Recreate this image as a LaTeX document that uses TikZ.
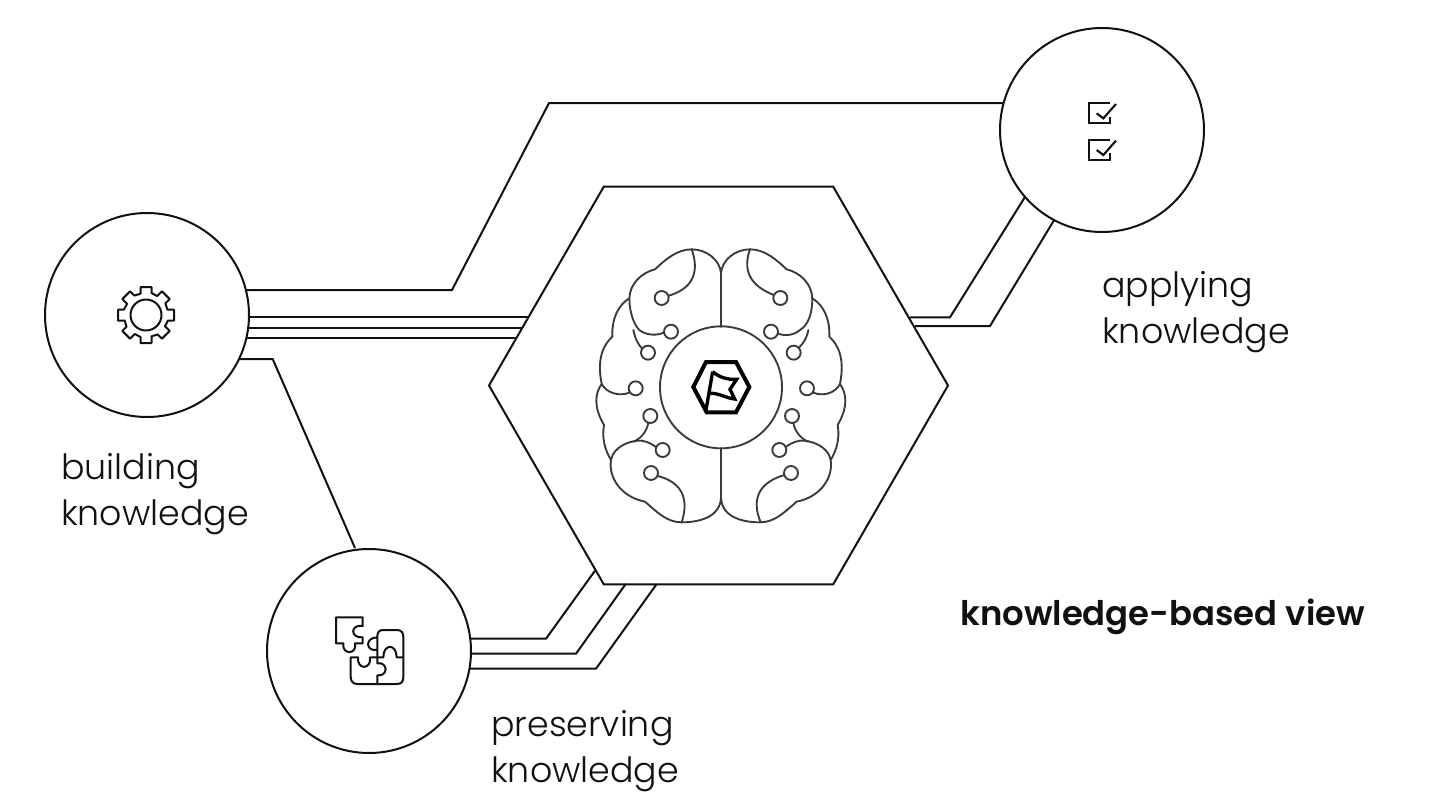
\documentclass[tikz,border=0pt]{standalone}
\usepackage{fontspec}
\setmainfont{Poppins Light}
\newfontfamily\boldf{Poppins SemiBold}
\usetikzlibrary{shapes.geometric}
\definecolor{ink}{HTML}{111111}
\definecolor{brainc}{HTML}{3a3a3a}
\tikzset{
  line/.style={draw=ink,line width=1.5pt,line join=miter},
  round/.style={circle,draw=ink,line width=1.5pt,minimum size=153pt,inner sep=0pt,outer sep=0pt},
  hexa/.style={regular polygon,regular polygon sides=6,draw=ink,line width=1.5pt,minimum size=344.25pt,inner sep=0pt,outer sep=0pt},
  lab/.style={anchor=west,align=left,font=\fontsize{26.1}{34.5}\selectfont,text=ink,inner sep=0pt},
  brain/.style={draw=brainc,line width=1.4pt,line cap=round,line join=round},
  dot/.style={draw=brainc,line width=1.4pt},
  icon/.style={draw=ink,line width=1.5pt,line join=round,line cap=round},
}
\begin{document}
\begin{tikzpicture}[x=0.75pt,y=-0.75pt]
\useasboundingbox (0,0) rectangle (1440,810);
\fill[white] (0,0) rectangle (1440,810);
\node[round] (build) at (147,315) {};
\node[round] (apply) at (1102,130) {};
\node[round] (pres) at (369,651) {};
\node[hexa] (hex) at (718.5,385.5) {};
\coordinate (h1) at (527.7,317.3);
\coordinate (h2) at (522.3,327.7);
\coordinate (h3) at (516,338.3);
\coordinate (h4) at (910,317.3);
\coordinate (h5) at (915,326);
\coordinate (h6) at (595,570.7);
\coordinate (h7) at (625.7,584);
\coordinate (h8) at (656.7,584);
\draw[line] (build.14.2 |- 452,290) -- (452,290) -- (549,103) -- (apply.164.8 |- 549,103);
\draw[line] (build.-1.3 |- h1) -- (h1);
\draw[line] (build.-7.1 |- h2) -- (h2);
\draw[line] (build.-13.2 |- h3) -- (h3);
\draw[line] (build.-25.5 |- 272.7,359) -- (272.7,359) -- (355,548);
\draw[line] (h4) -- (950,317.3) -- (apply.-139.4);
\draw[line] (h5) -- (990,326) -- (apply.-118.2);
\draw[line] (pres.6.9 |- 546,638.7) -- (546,638.7) -- (h6);
\draw[line] (pres.-1.5 |- 576,653.7) -- (576,653.7) -- (h7);
\draw[line] (pres.-10 |- 596,668.7) -- (596,668.7) -- (h8);

\node[lab] (t1) at (61,494) {building\\knowledge};
\node[lab] (t2) at (1102,312) {applying\\knowledge};
\node[lab] (t3) at (491,751) {preserving\\knowledge};
\node[anchor=west,inner sep=0pt,font=\boldf\fontsize{25.4}{30}\selectfont,text=ink] (t4) at (960,617) {knowledge-based view};

% brain, in zoom coordinates
\begin{scope}[shift={(580,230)},scale=0.33333]
\node[circle,draw=brainc,line width=1.4pt,minimum size=91.5pt,inner sep=0pt] (core) at (423,472) {};
\draw[brain] (423,290) -- (423,130) .. controls (420,90) and (380,58) .. (335,58)
  .. controls (290,58) and (255,90) .. (225,118) .. controls (185,128) and (150,160) .. (148,205)
  .. controls (115,225) and (95,265) .. (97,320) .. controls (70,345) and (50,385) .. (65,462)
  .. controls (45,490) and (40,530) .. (72,585) .. controls (65,625) and (75,660) .. (93,690)
  .. controls (85,740) and (120,800) .. (195,815) .. controls (230,845) and (260,877) .. (305,877)
  .. controls (360,877) and (423,860) .. (423,800) -- (423,655);
\draw[brain] (423,290) -- (423,130) .. controls (426,90) and (465,58) .. (510,58)
  .. controls (555,58) and (590,90) .. (620,118) .. controls (660,128) and (695,160) .. (697,205)
  .. controls (730,225) and (750,265) .. (748,320) .. controls (775,345) and (795,385) .. (780,462)
  .. controls (800,490) and (805,530) .. (773,585) .. controls (780,625) and (770,660) .. (752,690)
  .. controls (760,740) and (725,800) .. (650,815) .. controls (615,845) and (585,877) .. (540,877)
  .. controls (485,877) and (423,860) .. (423,800) -- (423,655);
% left inner lines
\draw[brain] (335,58) .. controls (350,100) and (360,170) .. (266,197);
\draw[brain] (148,205) .. controls (148,250) and (165,295) .. (185,305) .. controls (210,318) and (235,315) .. (252,308);
\draw[brain] (160,300) .. controls (165,325) and (175,345) .. (186,355);
\draw[brain] (65,462) .. controls (80,490) and (120,500) .. (147,488);
\draw[brain] (205,578) .. controls (200,610) and (175,630) .. (160,635);
\draw[brain] (93,690) .. controls (100,650) and (150,630) .. (185,632) .. controls (205,635) and (220,645) .. (229,652);
\draw[brain] (233,738) .. controls (300,755) and (330,800) .. (305,877);
% right inner lines
\draw[brain] (510,58) .. controls (495,100) and (490,160) .. (582,195);
\draw[brain] (697,205) .. controls (697,250) and (685,285) .. (660,300) .. controls (640,318) and (610,318) .. (592,310);
\draw[brain] (685,300) .. controls (680,325) and (670,340) .. (658,352);
\draw[brain] (780,462) .. controls (765,490) and (730,500) .. (700,488);
\draw[brain] (640,578) .. controls (645,610) and (670,630) .. (685,635);
\draw[brain] (752,690) .. controls (745,650) and (695,630) .. (660,632) .. controls (640,635) and (625,645) .. (616,652);
\draw[brain] (613,735) .. controls (545,755) and (510,800) .. (542,877);
% terminals
\foreach \n/\a/\b in {d1/245/204,d2/273/305,d3/204/368,d4/167/475,d5/211/558,d6/248/660,d7/213/729,
  d8/601/204,d9/573/305,d10/641/368,d11/681/475,d12/636/558,d13/598/660,d14/633/729}{
  \node[circle,dot,fill=white,minimum size=10.5pt,inner sep=0pt] (\n) at (\a,\b) {};
}
% logo
\draw[draw=black,line width=3pt,line join=miter] (378,396) -- (468,396) -- (508,471) -- (468,547) -- (380,547) -- (340,471) -- cycle;
\draw[draw=black,line width=2.5pt,line join=miter] (378,540) -- (398,425);
\draw[draw=black,line width=2.5pt,line join=miter] (398,425) .. controls (415,440) and (440,450) .. (470,448) -- (450,478) -- (464,507) .. controls (440,505) and (415,488) .. (388,490);
\end{scope}

% gear
\begin{scope}[shift={(146,315)}]
\draw[icon] (0,0) circle (15.5);
\foreach \r in {0,45,...,315}{
 \begin{scope}[rotate=\r]
  \draw[icon] (-5.5,-22) -- (-5.5,-28) -- (5.5,-28) -- (5.5,-22) to[bend left=7] ({22*sin(45-14.2)},{-22*cos(45-14.2)});
 \end{scope}
}
\end{scope}

% check boxes
\begin{scope}[shift={(1070,90)},scale=0.33333]
\foreach \dy in {0,110}{
\begin{scope}[shift={(0,\dy)}]
\draw[icon,line width=1.6pt,line join=miter,line cap=butt] (120,40) -- (58,40) -- (58,100) -- (120,100) -- (120,80);
\draw[icon,line width=1.6pt,line join=miter,line cap=butt] (80,70) -- (100,85) -- (138,42);
\end{scope}}
\end{scope}

% puzzle
\begin{scope}[shift={(320,600)},scale=0.33333]
\draw[icon] (128,52) -- (48,52) -- (48,130) -- (70,130) .. controls (65,165) and (112,165) .. (105,130) -- (128,130) -- (128,112) .. controls (90,115) and (90,72) .. (128,78) -- cycle;
\draw[icon] (172,150) -- (172,112) .. controls (172,98) and (175,90) .. (190,90) -- (230,90) .. controls (245,90) and (250,98) .. (250,112) -- (250,172) -- (230,172) .. controls (230,130) and (190,130) .. (190,172) -- (172,172) -- (172,150) .. controls (135,155) and (135,112) .. (172,112);
\draw[icon] (172,172) -- (150,172) .. controls (155,210) and (110,210) .. (114,172) -- (92,172) -- (92,230) .. controls (92,245) and (100,252) .. (112,252) -- (230,252) .. controls (245,252) and (250,245) .. (250,230) -- (250,172);
\draw[icon] (172,172) -- (172,190) .. controls (205,185) and (205,230) .. (172,226) -- (172,252);
\end{scope}
\end{tikzpicture}
\end{document}
